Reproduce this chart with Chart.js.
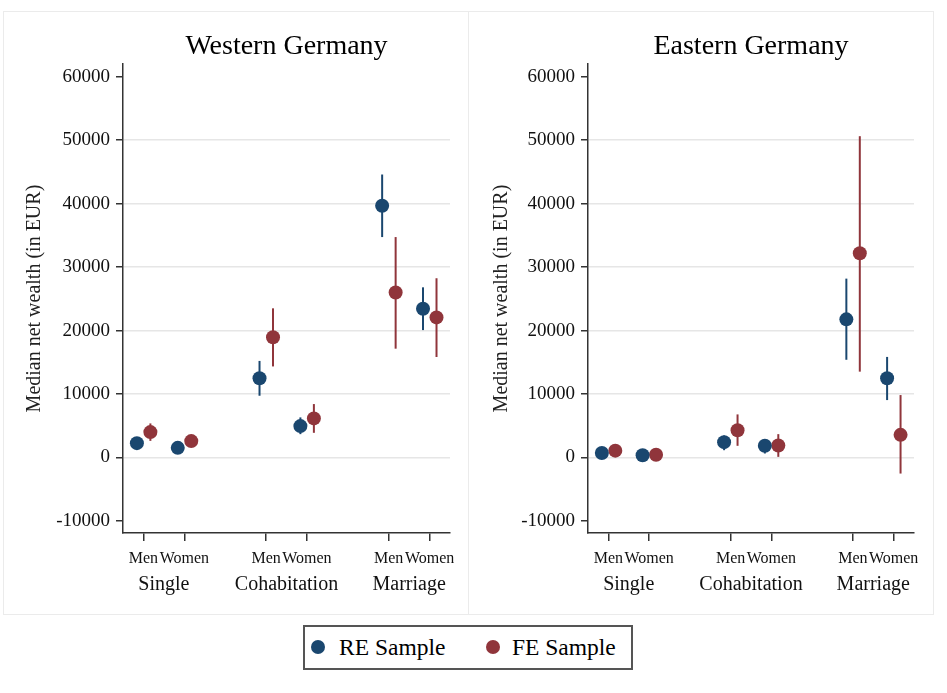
<!DOCTYPE html>
<html>
<head>
<meta charset="utf-8">
<script src="https://cdn.jsdelivr.net/npm/chart.js@4.4.0/dist/chart.umd.min.js"></script>
<style>
  body { margin: 0; background: #fff; width: 947px; height: 693px; position: relative; overflow: hidden; font-family: "Liberation Serif", serif; }
  canvas { position: absolute; }
  .frame { position: absolute; top: 11px; height: 604px; border: 1px solid #ebebeb; box-sizing: border-box; pointer-events: none; }
  #legend { position: absolute; left: 303px; top: 625px; width: 330px; height: 45px; border: 2px solid #555; box-sizing: border-box; }
  #legend .dot { position: absolute; top: 13px; width: 14px; height: 14px; border-radius: 50%; }
  #legend .lt { position: absolute; top: 0; line-height: 41px; font-size: 23.5px; color: #000; white-space: nowrap; }
</style>
</head>
<body>
<div class="frame" style="left:3px;width:466px"></div>
<div class="frame" style="left:468px;width:466px"></div>
<canvas id="west" width="465" height="604" style="left:3px;top:11px"></canvas>
<canvas id="east" width="463" height="604" style="left:470px;top:11px"></canvas>
<div id="legend">
  <span class="dot" style="left:6px;background:#1a476f"></span><span class="lt" style="left:34px">RE Sample</span>
  <span class="dot" style="left:181px;background:#90353b"></span><span class="lt" style="left:207px">FE Sample</span>
</div>
<script>
// x positions: Men / Women within Single, Cohabitation, Marriage
const positions = [1, 2, 4, 5, 7, 8];
const sexLabels = ["Men", "Women", "Men", "Women", "Men", "Women"];
const groupLabels = ["Single", "Cohabitation", "Marriage"];
const yTicks = [-10000, 0, 10000, 20000, 30000, 40000, 50000, 60000];

// Western Germany
const westRE = [2260, 1520, 12480, 4950, 39670, 23450];
const westRELo = [1800, 1100, 9730, 3680, 34740, 20080];
const westREHi = [2750, 1950, 15220, 6320, 44600, 26820];
const westFE = [4000, 2580, 18960, 6160, 26010, 22080];
const westFELo = [2620, 2100, 14350, 3890, 17150, 15840];
const westFEHi = [5370, 3100, 23510, 8420, 34740, 28250];

// Eastern Germany
const eastRE = [700, 350, 2420, 1850, 21770, 12480];
const eastRELo = [300, 0, 1150, 630, 15400, 9050];
const eastREHi = [1100, 700, 3470, 2890, 28190, 15850];
const eastFE = [1080, 430, 4300, 1900, 32180, 3570];
const eastFELo = [700, 50, 1840, 100, 13530, -2530];
const eastFEHi = [1450, 800, 6790, 3680, 50640, 9840];

const navy = "#1a476f";
const maroon = "#90353b";
const axisCol = "#333";
const serif = "Liberation Serif";

const errorBars = {
  id: "errorBars",
  beforeDatasetsDraw(chart) {
    const { ctx, scales: { x, y } } = chart;
    chart.data.datasets.forEach(ds => {
      ctx.save();
      ctx.strokeStyle = ds.backgroundColor;
      ctx.lineWidth = 2;
      ds.data.forEach((p, i) => {
        const px = x.getPixelForValue(p.x);
        ctx.beginPath();
        ctx.moveTo(px, y.getPixelForValue(ds.lo[i]));
        ctx.lineTo(px, y.getPixelForValue(ds.hi[i]));
        ctx.stroke();
      });
      ctx.restore();
    });
  }
};

const groupText = {
  id: "groupText",
  afterDraw(chart) {
    const { ctx, chartArea, scales: { x } } = chart;
    ctx.save();
    ctx.font = "20px '" + serif + "'";
    ctx.fillStyle = "#111";
    ctx.textAlign = "center";
    ctx.textBaseline = "middle";
    groupLabels.forEach((g, i) => {
      const cx = (x.getPixelForValue(positions[2 * i]) + x.getPixelForValue(positions[2 * i + 1])) / 2;
      ctx.fillText(g, cx, chartArea.bottom + 52);
    });
    ctx.restore();
  }
};

function makeChart(id, title, re, reLo, reHi, fe, feLo, feHi, axisWidth, padRight) {
  const pts = (vals, off) => vals.map((v, i) => ({ x: positions[i] + off, y: v }));
  return new Chart(document.getElementById(id), {
    type: "scatter",
    data: {
      datasets: [
        { label: "RE Sample", data: pts(re, -0.16), lo: reLo, hi: reHi,
          backgroundColor: navy, borderWidth: 0, pointRadius: 7, pointHoverRadius: 7 },
        { label: "FE Sample", data: pts(fe, 0.17), lo: feLo, hi: feHi,
          backgroundColor: maroon, borderWidth: 0, pointRadius: 7, pointHoverRadius: 7 }
      ]
    },
    options: {
      responsive: false,
      animation: false,
      events: [],
      layout: { padding: { left: 0, right: padRight, top: 0, bottom: 7 } },
      plugins: {
        legend: { display: false },
        tooltip: { enabled: false },
        title: {
          display: true,
          text: title,
          fullSize: false,
          color: "#000",
          font: { family: serif, size: 28, weight: "normal" },
          padding: { top: 19, bottom: 0.5 }
        }
      },
      scales: {
        x: {
          type: "linear",
          min: 0.5,
          max: 8.5,
          afterBuildTicks: s => { s.ticks = positions.map(v => ({ value: v })); },
          afterFit: s => { s.height = 75; },
          ticks: {
            autoSkip: false,
            maxRotation: 0,
            minRotation: 0,
            padding: 8,
            color: "#111",
            font: { family: serif, size: 16 },
            callback: (v, i) => sexLabels[i]
          },
          grid: { drawOnChartArea: false, tickColor: axisCol, tickLength: 8, lineWidth: 1.5 },
          border: { color: axisCol, width: 1.5 }
        },
        y: {
          min: -11900,
          max: 62000,
          afterBuildTicks: s => { s.ticks = yTicks.map(v => ({ value: v })); },
          afterFit: s => { s.width = axisWidth; },
          ticks: {
            padding: 6,
            color: "#111",
            font: { family: serif, size: 19 },
            callback: v => String(v)
          },
          grid: {
            color: c => (c.tick && (c.tick.value === 60000 || c.tick.value === -10000)) ? "rgba(0,0,0,0)" : "#e6e6e6",
            lineWidth: 1.5,
            tickColor: axisCol,
            tickLength: 7
          },
          border: { color: axisCol, width: 1.5 },
          title: {
            display: true,
            text: "Median net wealth (in EUR)",
            color: "#222",
            font: { family: serif, size: 20 },
            padding: { top: 20, bottom: 0 }
          }
        }
      }
    },
    plugins: [errorBars, groupText]
  });
}

makeChart("west", "Western Germany", westRE, westRELo, westREHi, westFE, westFELo, westFEHi, 120, 18);
makeChart("east", "Eastern Germany", eastRE, eastRELo, eastREHi, eastFE, eastFELo, eastFEHi, 118, 19);
</script>
</body>
</html>
